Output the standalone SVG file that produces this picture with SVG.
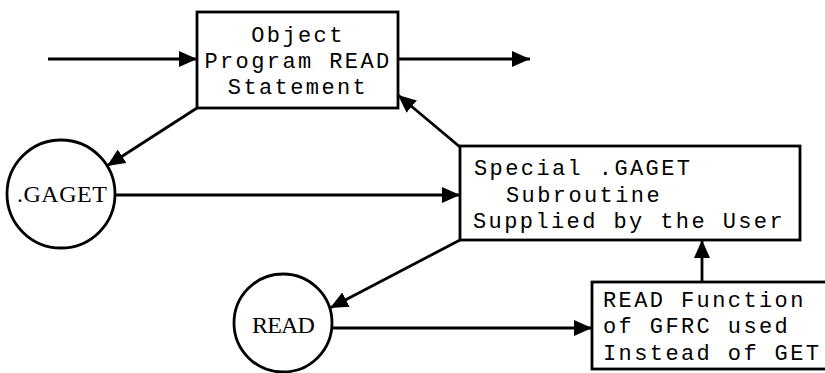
<svg xmlns="http://www.w3.org/2000/svg" width="825" height="373" viewBox="0 0 825 373">
  <style>
    .box { fill: #fff; stroke: #000; stroke-width: 2.8; }
    .circ { fill: #fff; stroke: #000; stroke-width: 2.8; }
    .mono { font-family: "Liberation Mono", "Courier New", monospace; font-size: 22px; letter-spacing: 2.4px; fill: #000; }
    .serif { font-family: "Liberation Serif", "Times New Roman", serif; font-size: 24px; fill: #000; }
    .edge { stroke: #000; stroke-width: 2.8; fill: none; marker-end: url(#arrow); }
  </style>
  <defs>
    <marker id="arrow" markerUnits="userSpaceOnUse" markerWidth="19" markerHeight="17" refX="18" refY="8" orient="auto">
      <path d="M0,0 L18,8 L0,16 z" fill="#000"/>
    </marker>
  </defs>
  <rect width="825" height="373" fill="#fff"/>

  <g id="connectors">
    <line class="edge" x1="48" y1="59" x2="197" y2="59"/>
    <line class="edge" x1="398" y1="59" x2="530" y2="59"/>
    <line class="edge" x1="197" y1="108" x2="107" y2="166"/>
    <line class="edge" x1="116" y1="195" x2="460" y2="195"/>
    <line class="edge" x1="460" y1="147" x2="398" y2="95"/>
    <line class="edge" x1="460" y1="240" x2="330" y2="308"/>
    <line class="edge" x1="332" y1="328" x2="592" y2="328"/>
    <line class="edge" x1="702" y1="282" x2="702" y2="240"/>
  </g>

  <g id="object-program">
    <rect class="box" x="197" y="12" width="201" height="96"/>
    <text class="mono" x="298" y="42" text-anchor="middle">Object</text>
    <text class="mono" x="298" y="68" text-anchor="middle">Program READ</text>
    <text class="mono" x="298" y="94" text-anchor="middle">Statement</text>
  </g>

  <g id="gaget">
    <circle class="circ" cx="61" cy="194" r="54"/>
    <text class="serif" x="17" y="202" letter-spacing="0.5">.GAGET</text>
  </g>

  <g id="special-gaget">
    <rect class="box" x="460" y="146" width="340" height="94"/>
    <text class="mono" x="474" y="175">Special .GAGET</text>
    <text class="mono" x="506" y="202">Subroutine</text>
    <text class="mono" x="473" y="228">Supplied by the User</text>
  </g>

  <g id="read">
    <circle class="circ" cx="283" cy="323" r="49"/>
    <text class="serif" x="252" y="333" letter-spacing="-0.8">READ</text>
  </g>

  <g id="read-function">
    <rect class="box" x="592" y="282" width="240" height="87"/>
    <text class="mono" x="603" y="307">READ Function</text>
    <text class="mono" x="603" y="333">of GFRC used</text>
    <text class="mono" x="603" y="360">Instead of GET</text>
  </g>
</svg>
